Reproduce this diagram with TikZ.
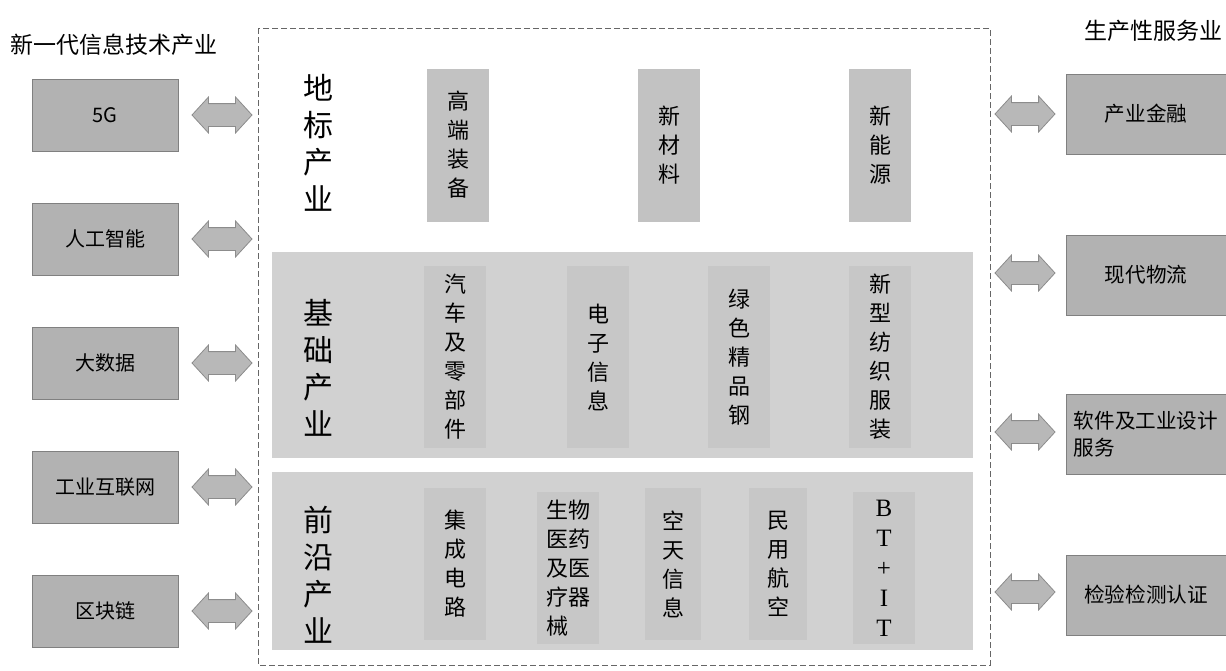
\documentclass[tikz,border=0pt]{standalone}
\usepackage{fontspec}
\setmainfont{Noto Sans CJK SC}
\newfontfamily\latinserif{Liberation Serif}
\usetikzlibrary{shapes.arrows}

\begin{document}
\begin{tikzpicture}[x=0.5pt, y=-0.5pt,
		headline/.style={inner sep=0pt, font=\fontsize{11.5}{14}\selectfont},
		itbox/.style={draw=black!50, fill=black!30, minimum width=73pt, minimum height=36pt, inner sep=0pt, font=\fontsize{10}{12}\selectfont},
		svbox/.style={draw=black!50, fill=black!30, minimum width=80pt, minimum height=40pt, inner sep=0pt, align=left, font=\fontsize{10.3}{13.5}\selectfont},
		linkarrow/.style={double arrow, draw=black!45, fill=black!28, minimum height=30pt, minimum width=17.5pt, double arrow head extend=3.25pt, double arrow tip angle=95, inner xsep=0pt, inner ysep=5.5pt},
		secbg/.style={fill=black!18},
		strip/.style={minimum width=31pt, inner sep=0pt, align=center, font=\fontsize{11}{14.5}\selectfont},
		seclabel/.style={inner sep=0pt, align=center, font=\fontsize{15}{18.5}\selectfont}]
		\useasboundingbox (0,0) rectangle (1226,670);
		\clip (0,0) rectangle (1226,670);

		% headings
		\draw (114, 45) node[headline] (ithead) {新一代信息技术产业};
		\draw (1153, 31) node[headline] (svhead) {生产性服务业};

		% frame and sections
		\draw[draw=black!60, dash pattern=on 3pt off 1.5pt] (258,28) rectangle (990,665);
		\fill[secbg] (272,252) rectangle (973,458);
		\fill[secbg] (272,472) rectangle (973,650);

		% left column
		\draw (105, 115) node[itbox] (it5g) {5G};
		\draw (105, 239) node[itbox] (itai) {人工智能};
		\draw (105, 363) node[itbox] (itbd) {大数据};
		\draw (105, 487) node[itbox] (itiiot) {工业互联网};
		\draw (105, 611) node[itbox] (itbc) {区块链};
		\draw (222, 115) node[linkarrow] (la1) {};
		\draw (222, 239) node[linkarrow] (la2) {};
		\draw (222, 363) node[linkarrow] (la3) {};
		\draw (222, 487) node[linkarrow] (la4) {};
		\draw (222, 611) node[linkarrow] (la5) {};

		% right column
		\draw (1146, 114) node[svbox] (svfin) {产业金融};
		\draw (1146, 275) node[svbox] (svlog) {现代物流};
		\draw (1146, 434) node[svbox] (svsw) {软件及工业设计\\服务};
		\draw (1146, 595) node[svbox] (svtest) {检验检测认证};
		\draw (1025, 114) node[linkarrow] (ra1) {};
		\draw (1025, 273) node[linkarrow] (ra2) {};
		\draw (1025, 432) node[linkarrow] (ra3) {};
		\draw (1025, 592) node[linkarrow] (ra4) {};

		% landmark industries
		\draw (318, 143) node[seclabel] (landmark) {地\\标\\产\\业};
		\draw (458, 145) node[strip, fill=black!24, minimum height=76.5pt] (hiend) {高\\端\\装\\备};
		\draw (669, 145) node[strip, fill=black!24, minimum height=76.5pt] (newmat) {新\\材\\料};
		\draw (880, 145) node[strip, fill=black!24, minimum height=76.5pt] (newen) {新\\能\\源};

		% basic industries
		\draw (318, 368) node[seclabel] (basic) {基\\础\\产\\业};
		\draw (455, 357) node[strip, fill=black!22, minimum height=91pt] (auto) {汽\\车\\及\\零\\部\\件};
		\draw (598, 357) node[strip, fill=black!22, minimum height=91pt] (elec) {电\\子\\信\\息};
		\draw (739, 357) node[strip, fill=black!22, minimum height=91pt] (steel) {绿\\色\\精\\品\\钢};
		\draw (880, 357) node[strip, fill=black!22, minimum height=91pt] (textile) {新\\型\\纺\\织\\服\\装};

		% frontier industries
		\draw (318, 575) node[seclabel] (frontier) {前\\沿\\产\\业};
		\draw (455, 564) node[strip, fill=black!22, minimum height=76pt] (ic) {集\\成\\电\\路};
		\draw (568, 568) node[strip, fill=black!22, minimum height=76pt, align=left] (bio) {生物\\医药\\及医\\疗器\\械};
		\draw (673, 564) node[strip, fill=black!22, minimum height=76pt, minimum width=28pt] (space) {空\\天\\信\\息};
		\draw (778, 564) node[strip, fill=black!22, minimum height=76pt, minimum width=29pt] (avia) {民\\用\\航\\空};
		\draw (884, 568) node[strip, fill=black!22, minimum height=76pt, font=\latinserif\fontsize{12.5}{15}\selectfont] (btit) {B\\T\\+\\I\\T};
	\end{tikzpicture}
\end{document}
